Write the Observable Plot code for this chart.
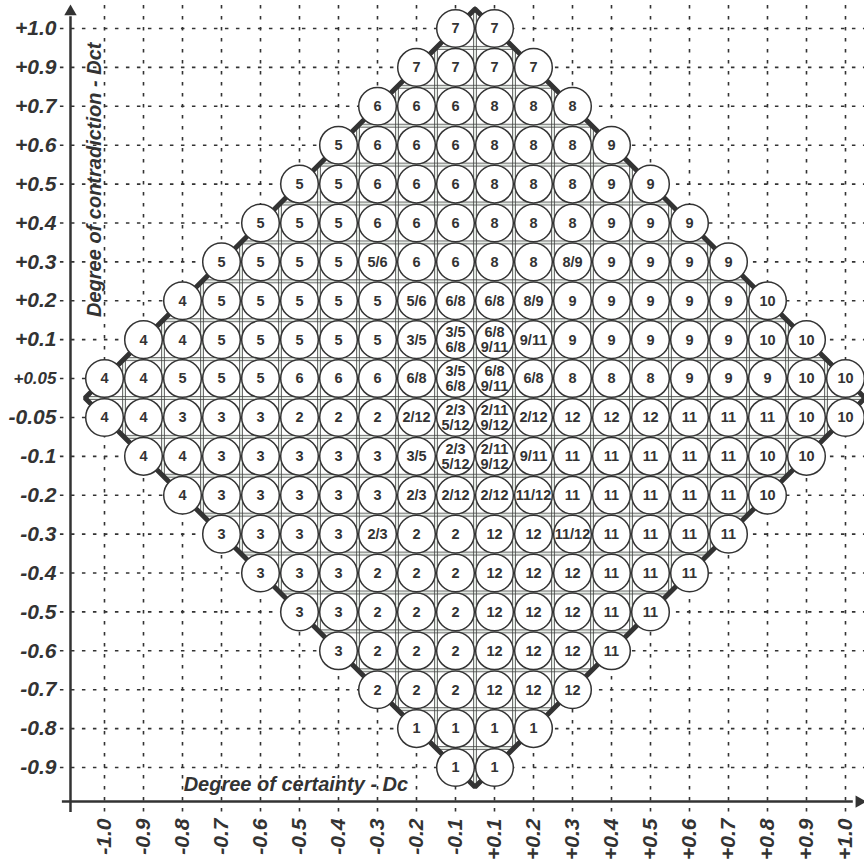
<!DOCTYPE html>
<html><head><meta charset="utf-8">
<script src="https://cdn.jsdelivr.net/npm/d3@7"></script>
<script src="https://cdn.jsdelivr.net/npm/@observablehq/plot@0.6"></script>
<style>body{margin:0;background:#fff}svg{display:block}</style>
</head><body><div id="chart"></div>
<script>
// Tick labels (columns = Degree of certainty, rows = Degree of contradiction)
const xTicks = ["-1.0","-0.9","-0.8","-0.7","-0.6","-0.5","-0.4","-0.3","-0.2","-0.1",
                "+0.1","+0.2","+0.3","+0.4","+0.5","+0.6","+0.7","+0.8","+0.9","+1.0"];
const yTicks = ["+1.0","+0.9","+0.7","+0.6","+0.5","+0.4","+0.3","+0.2","+0.1","+0.05",
                "-0.05","-0.1","-0.2","-0.3","-0.4","-0.5","-0.6","-0.7","-0.8","-0.9"];
// Circle labels per row (top to bottom), each row centred in the diamond
const cellLabels = [
  ["7","7"],
  ["7","7","7","7"],
  ["6","6","6","8","8","8"],
  ["5","6","6","6","8","8","8","9"],
  ["5","5","6","6","6","8","8","8","9","9"],
  ["5","5","5","6","6","6","8","8","8","9","9","9"],
  ["5","5","5","5","5/6","6","6","8","8","8/9","9","9","9","9"],
  ["4","5","5","5","5","5","5/6","6/8","6/8","8/9","9","9","9","9","9","10"],
  ["4","4","5","5","5","5","5","3/5","3/5\n6/8","6/8\n9/11","9/11","9","9","9","9","9","10","10"],
  ["4","4","5","5","5","6","6","6","6/8","3/5\n6/8","6/8\n9/11","6/8","8","8","8","9","9","9","10","10"],
  ["4","4","3","3","3","2","2","2","2/12","2/3\n5/12","2/11\n9/12","2/12","12","12","12","11","11","11","10","10"],
  ["4","4","3","3","3","3","3","3/5","2/3\n5/12","2/11\n9/12","9/11","11","11","11","11","11","10","10"],
  ["4","3","3","3","3","3","2/3","2/12","2/12","11/12","11","11","11","11","11","10"],
  ["3","3","3","3","2/3","2","2","12","12","11/12","11","11","11","11"],
  ["3","3","3","2","2","2","12","12","12","11","11","11"],
  ["3","3","2","2","2","12","12","12","11","11"],
  ["3","2","2","2","12","12","12","11"],
  ["2","2","2","12","12","12"],
  ["1","1","1","1"],
  ["1","1"]
];
const xTitle = "Degree of certainty - Dc";
const yTitle = "Degree of contradiction - Dct";

const nx = xTicks.length, ny = yTicks.length;
const cells = cellLabels.flatMap((row, r) => {
  const start = (nx - row.length) / 2;
  return row.map((label, j) => ({col: start + j, row: r, label}));
});
const cx = (nx - 1) / 2, cy = (ny - 1) / 2, half = nx / 2;
const bounds = d3.range(-0.5, nx, 1);
const vSegs = bounds.map(b => ({x: b, y1: cy - (half - Math.abs(b - cx)), y2: cy + (half - Math.abs(b - cx))})).filter(d => d.y2 > d.y1);
const hSegs = bounds.map(b => ({y: b, x1: cx - (half - Math.abs(b - cy)), x2: cx + (half - Math.abs(b - cy))})).filter(d => d.x2 > d.x1);
const diamond = [[cx, cy - half], [cx + half, cy], [cx, cy + half], [cx - half, cy], [cx, cy - half]];

// axis geometry in scale units
const axisX = -0.872, axisY = 19.876;
const ink = "#333";
const font = "'Liberation Sans', Arial, sans-serif";

const chart = Plot.plot({
  width: 864, height: 867,
  margin: 0,
  x: {type: "linear", domain: [0, nx - 1], range: [104, 845], axis: null},
  y: {type: "linear", domain: [0, ny - 1], range: [28, 767], axis: null},
  style: {fontFamily: font, background: "#fff"},
  marks: [
    // dashed grid
    Plot.ruleX(d3.range(nx), {x: d => d, y1: -0.59, y2: 20.24, stroke: ink, strokeWidth: 1.6, strokeDasharray: "3.5,7.5"}),
    Plot.ruleY(d3.range(ny), {y: d => d, x1: -1.13, x2: 19.5, stroke: ink, strokeWidth: 1.6, strokeDasharray: "3.5,7.5"}),
    // inner fine grid (double lines)
    Plot.ruleX(vSegs, {x: "x", y1: "y1", y2: "y2", stroke: "#e2e8e2", strokeWidth: 3}),
    Plot.ruleY(hSegs, {y: "y", x1: "x1", x2: "x2", stroke: "#e2e8e2", strokeWidth: 3}),
    Plot.ruleX(vSegs, {x: "x", y1: "y1", y2: "y2", stroke: "#444", strokeWidth: 0.75, dx: -1.5}),
    Plot.ruleX(vSegs, {x: "x", y1: "y1", y2: "y2", stroke: "#444", strokeWidth: 0.75, dx: 1.5}),
    Plot.ruleY(hSegs, {y: "y", x1: "x1", x2: "x2", stroke: "#444", strokeWidth: 0.75, dy: -1.5}),
    Plot.ruleY(hSegs, {y: "y", x1: "x1", x2: "x2", stroke: "#444", strokeWidth: 0.75, dy: 1.5}),
    // diamond outline
    Plot.line(diamond, {x: d => d[0], y: d => d[1], stroke: ink, strokeWidth: 5, strokeLinejoin: "miter"}),
    // circles
    Plot.dot(cells, {x: "col", y: "row", r: 18.8, fill: "#fff", stroke: ink, strokeWidth: 1.5}),
    Plot.text(cells, {x: "col", y: "row", text: "label", fill: ink, fontSize: 14.5, fontWeight: "bold", lineHeight: 1.05}),
    // axes
    Plot.ruleX([axisX], {x: d => d, y1: 20.16, y2: -0.3, stroke: ink, strokeWidth: 2.5}),
    Plot.ruleY([axisY], {y: d => d, x1: -1.08, x2: 19.2, stroke: ink, strokeWidth: 2.5}),
    Plot.dot([0], {x: () => axisX, y: () => -0.43, symbol: "triangle", r: 4.6, fill: ink}),
    Plot.dot([0], {x: () => 19.35, y: () => axisY, symbol: "triangle", r: 4.6, fill: ink, rotate: 90}),
    // tick labels
    Plot.text(yTicks, {x: () => axisX, y: (d, i) => i, text: d => d, dx: -14, textAnchor: "end", fill: ink,
      fontSize: d => d === "+0.05" ? 17 : 21, fontWeight: "bold", fontStyle: "italic"}),
    Plot.text(xTicks, {x: (d, i) => i, y: () => axisY, text: d => d, dy: 17, rotate: -90, textAnchor: "end", fill: ink,
      fontSize: 21, fontWeight: "bold", fontStyle: "italic"}),
    // axis titles
    Plot.text([yTitle], {x: () => -0.25, y: () => 0.36, text: d => d, rotate: -90, textAnchor: "end", fill: ink,
      fontSize: 20, fontWeight: "bold", fontStyle: "italic"}),
    Plot.text([xTitle], {x: () => 2.03, y: () => 19.44, text: d => d, textAnchor: "start", fill: ink,
      fontSize: 20, fontWeight: "bold", fontStyle: "italic"})
  ]
});
document.getElementById("chart").append(chart);
</script></body></html>
